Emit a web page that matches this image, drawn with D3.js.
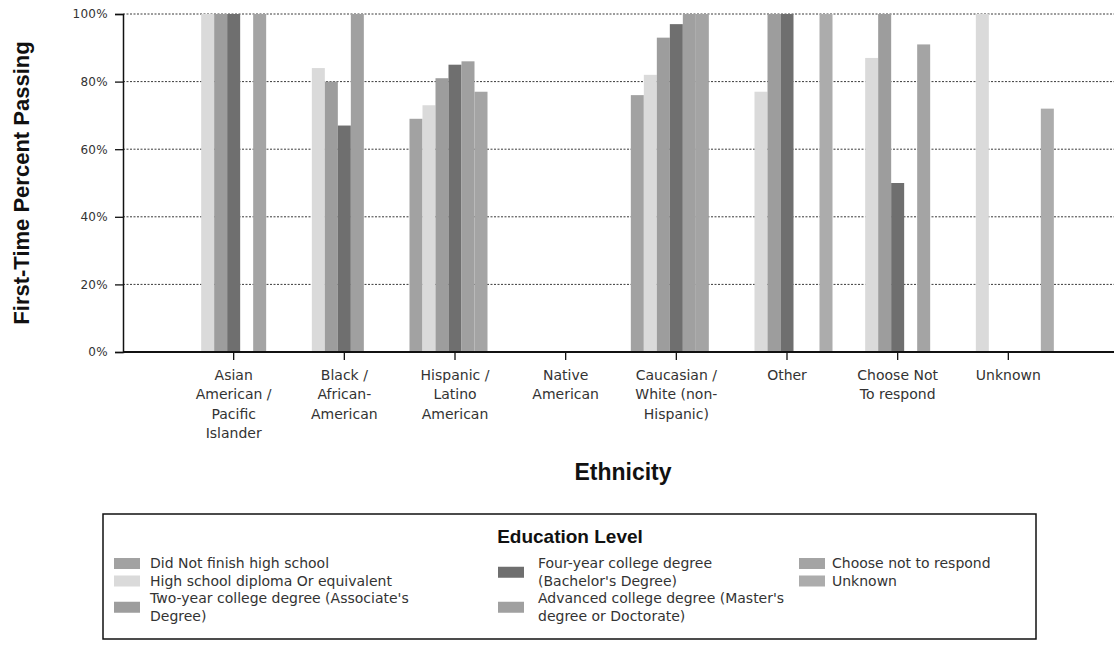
<!DOCTYPE html>
<html>
<head>
<meta charset="utf-8">
<script src="https://cdn.jsdelivr.net/npm/d3@7"></script>
<style>
  html, body { margin: 0; padding: 0; background: #ffffff; }
  svg { display: block; }
</style>
</head>
<body>
<svg id="chart" width="1114" height="646"></svg>
<script>
// ---------------- DATA ----------------
const categories = [
  "Asian American / Pacific Islander",
  "Black / African-American",
  "Hispanic / Latino American",
  "Native American",
  "Caucasian / White (non-Hispanic)",
  "Other",
  "Choose Not To respond",
  "Unknown"
];
const categoryLabelLines = [
  ["Asian", "American /", "Pacific", "Islander"],
  ["Black /", "African-", "American"],
  ["Hispanic /", "Latino", "American"],
  ["Native", "American"],
  ["Caucasian /", "White (non-", "Hispanic)"],
  ["Other"],
  ["Choose Not", "To respond"],
  ["Unknown"]
];
const seriesNames = [
  "Did Not finish high school",
  "High school diploma Or equivalent",
  "Two-year college degree (Associate's Degree)",
  "Four-year college degree (Bachelor's Degree)",
  "Advanced college degree (Master's degree or Doctorate)",
  "Choose not to respond",
  "Unknown"
];
const legendLabelLines = [
  ["Did Not finish high school"],
  ["High school diploma Or equivalent"],
  ["Two-year college degree (Associate's", "Degree)"],
  ["Four-year college degree", "(Bachelor's Degree)"],
  ["Advanced college degree (Master's", "degree or Doctorate)"],
  ["Choose not to respond"],
  ["Unknown"]
];
// percent passing per category, one array per series (null = no bar)
const didNotFinish = [null, null, 69, null, 76, null, null, null];
const highSchool   = [100, 84, 73, null, 82, 77, 87, 100];
const twoYear      = [100, 80, 81, null, 93, 100, 100, null];
const fourYear     = [100, 67, 85, null, 97, 100, 50, null];
const advanced     = [null, 100, 86, null, 100, null, null, null];
const chooseNot    = [100, null, 77, null, 100, null, 91, null];
const unknownEdu   = [null, null, null, null, null, 100, null, 72];
const seriesValues = [didNotFinish, highSchool, twoYear, fourYear, advanced, chooseNot, unknownEdu];
const yTickValues = [0, 20, 40, 60, 80, 100];

// ---------------- STYLE / LAYOUT ----------------
const seriesColors = ["#a2a2a2", "#dadada", "#9d9d9d", "#6f6f6f", "#a0a0a0", "#a4a4a4", "#acacac"];
const plotLeft = 123, plotTop = 14, plotBottom = 352, plotRightEnd = 1119;
const svg = d3.select("#chart");
const tickFont = "'DejaVu Sans', Verdana, sans-serif";
const titleFont = "'Liberation Sans', Arial, sans-serif";

const slotW = (plotRightEnd - plotLeft) / 9;
const x = d3.scaleBand()
  .domain(categories)
  .range([plotLeft + slotW / 2, plotRightEnd - slotW / 2])
  .paddingInner(0).paddingOuter(0);
const groupW = 91;
const xInner = d3.scaleBand()
  .domain(seriesNames)
  .range([(x.bandwidth() - groupW) / 2, (x.bandwidth() + groupW) / 2]);
const y = d3.scaleLinear().domain([0, 100]).range([plotBottom, plotTop]);

// gridlines
svg.append("g")
  .selectAll("line")
  .data(yTickValues.filter(v => v > 0))
  .join("line")
  .attr("x1", plotLeft).attr("x2", 1114)
  .attr("y1", d => y(d)).attr("y2", d => y(d))
  .attr("stroke", "#3a3a3a")
  .attr("stroke-width", 1)
  .attr("stroke-dasharray", "2,1.5");

// bars
const barData = [];
seriesNames.forEach((s, si) => {
  categories.forEach((c, ci) => {
    const v = seriesValues[si][ci];
    if (v !== null && v !== undefined) barData.push({ s, si, c, v });
  });
});
svg.append("g")
  .selectAll("rect")
  .data(barData)
  .join("rect")
  .attr("x", d => x(d.c) + xInner(d.s))
  .attr("width", xInner.bandwidth())
  .attr("y", d => y(d.v))
  .attr("height", d => y(0) - y(d.v))
  .attr("fill", d => seriesColors[d.si]);

// y axis
const yAxis = d3.axisLeft(y)
  .tickValues(yTickValues)
  .tickFormat(d => d + "%")
  .tickSize(8)
  .tickPadding(7);
const gy = svg.append("g")
  .attr("transform", `translate(${plotLeft},0)`)
  .call(yAxis);
gy.select(".domain").attr("stroke", "#111").attr("stroke-width", 1.5);
gy.selectAll(".tick line").attr("stroke", "#111").attr("stroke-width", 1.3);
gy.selectAll(".tick text")
  .attr("font-family", tickFont)
  .attr("font-size", 12)
  .attr("letter-spacing", 0.3)
  .attr("fill", "#333");

// x axis
const xAxis = d3.axisBottom(x).tickSize(8).tickFormat("");
const gx = svg.append("g")
  .attr("transform", `translate(0,${plotBottom})`)
  .call(xAxis);
gx.select(".domain").remove();
gx.append("line")
  .attr("x1", plotLeft).attr("x2", 1114)
  .attr("y1", 0).attr("y2", 0)
  .attr("stroke", "#111").attr("stroke-width", 2);
gx.selectAll(".tick line").attr("stroke", "#111").attr("stroke-width", 1.3);
gx.selectAll(".tick").each(function(d, i) {
  const t = d3.select(this).append("text")
    .attr("text-anchor", "middle")
    .attr("font-family", tickFont)
    .attr("font-size", 14)
    .attr("fill", "#333");
  categoryLabelLines[i].forEach((line, li) => {
    t.append("tspan").attr("x", 0).attr("y", 28 + li * 19.3).text(line);
  });
});

// axis titles
svg.append("text")
  .attr("x", 623).attr("y", 480)
  .attr("text-anchor", "middle")
  .attr("font-family", titleFont)
  .attr("font-weight", "bold")
  .attr("font-size", 23)
  .attr("fill", "#111")
  .text("Ethnicity");

svg.append("text")
  .attr("transform", `translate(29,${(plotTop + plotBottom) / 2}) rotate(-90)`)
  .attr("text-anchor", "middle")
  .attr("font-family", titleFont)
  .attr("font-weight", "bold")
  .attr("font-size", 22)
  .attr("fill", "#111")
  .text("First-Time Percent Passing");

// legend
const lg = svg.append("g");
lg.append("rect")
  .attr("x", 103).attr("y", 514)
  .attr("width", 933).attr("height", 125)
  .attr("fill", "#fff")
  .attr("stroke", "#111").attr("stroke-width", 1.5);
lg.append("text")
  .attr("x", 570).attr("y", 543)
  .attr("text-anchor", "middle")
  .attr("font-family", titleFont)
  .attr("font-weight", "bold")
  .attr("font-size", 19)
  .attr("fill", "#111")
  .text("Education Level");

const legendCols = [
  { sx: 114, tx: 150, items: [0, 1, 2] },
  { sx: 498, tx: 538, items: [3, 4] },
  { sx: 799, tx: 832, items: [5, 6] }
];
const rowStart = 568, rowH = 17.5;
legendCols.forEach(col => {
  let row = 0;
  col.items.forEach(si => {
    const lines = legendLabelLines[si];
    const firstY = rowStart + row * rowH;
    const midY = firstY - 5 + (lines.length - 1) * rowH / 2;
    lg.append("rect")
      .attr("x", col.sx).attr("y", midY - 5)
      .attr("width", 26).attr("height", 11)
      .attr("fill", seriesColors[si]);
    const t = lg.append("text")
      .attr("font-family", tickFont)
      .attr("font-size", 14)
      .attr("fill", "#333");
    lines.forEach((line, li) => {
      t.append("tspan").attr("x", col.tx).attr("y", firstY + li * rowH).text(line);
    });
    row += lines.length;
  });
});
</script>
</body>
</html>
